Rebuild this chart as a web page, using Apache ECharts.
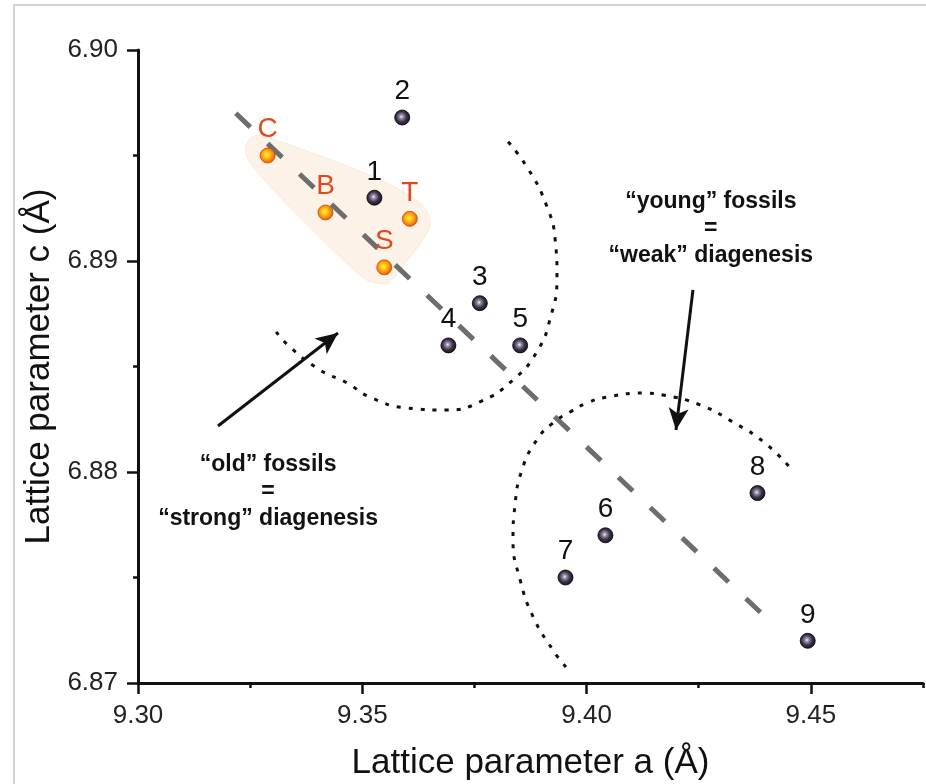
<!DOCTYPE html>
<html>
<head>
<meta charset="utf-8">
<script src="https://cdn.jsdelivr.net/npm/echarts@6/dist/echarts.min.js"></script>
<style>
html,body{margin:0;padding:0;background:#fff;}
#chart{width:926px;height:784px;}
</style>
</head>
<body>
<div id="chart"></div>
<script>
// ---- data ----
var fossilNames = ['1','2','3','4','5','6','7','8','9'];
var fossilA = [9.3527, 9.3589, 9.3762, 9.3692, 9.3852, 9.4042, 9.3953, 9.4381, 9.4493];
var fossilC = [6.8930, 6.8968, 6.8880, 6.8860, 6.8860, 6.8770, 6.8750, 6.8790, 6.8720];

var refNames = ['C','B','T','S'];
var refA = [9.3289, 9.3418, 9.3606, 9.3549];
var refC = [6.8950, 6.8923, 6.8920, 6.8897];

var trendA = [9.3218, 9.4390];
var trendC = [6.8970, 6.8733];

var arcOldA = [9.3308, 9.3339, 9.3406, 9.3466, 9.3517, 9.3600, 9.3689, 9.3762, 9.3836, 9.3889, 9.3918, 9.3934, 9.3930, 9.3912, 9.3867, 9.3814];
var arcOldC = [6.88664, 6.88592, 6.88483, 6.88422, 6.88355, 6.88303, 6.88294, 6.88332, 6.88436, 6.88569, 6.88720, 6.88924, 6.89100, 6.89256, 6.89446, 6.89592];

var arcYoungA = [9.3954, 9.3925, 9.3881, 9.3852, 9.3836, 9.3840, 9.3856, 9.3889, 9.3925, 9.3963, 9.4001, 9.4045, 9.4126, 9.4170, 9.4253, 9.4326, 9.4398, 9.4458];
var arcYoungC = [6.87076, 6.87156, 6.87313, 6.87488, 6.87678, 6.87834, 6.88010, 6.88152, 6.88232, 6.88284, 6.88327, 6.88355, 6.88374, 6.88365, 6.88318, 6.88237, 6.88137, 6.88010];

var blobA = [9.3240, 9.3252, 9.3275, 9.3524, 9.3629, 9.3651, 9.3644, 9.3584, 9.3554, 9.3510, 9.3450, 9.3287, 9.3246];
var blobC = [6.89540, 6.89585, 6.89595, 6.8940, 6.89275, 6.89194, 6.89133, 6.88957, 6.88896, 6.8891, 6.8902, 6.8937, 6.89480];

var arrowOld = [[9.31783, 6.88218], [9.34458, 6.88659]];
var arrowYoung = [[9.42372, 6.88863], [9.41993, 6.88199]];

var noteTexts = ['\u201Cold\u201D fossils\n=\n\u201Cstrong\u201D diagenesis', '\u201Cyoung\u201D fossils\n=\n\u201Cweak\u201D diagenesis'];
var noteA = [9.3290, 9.4277];
var noteC = [6.87905, 6.89152];

var xMajorTicks = [9.30, 9.35, 9.40, 9.45];
var xMinorTicks = [9.325, 9.375, 9.425, 9.475];
var yMajorTicks = [6.87, 6.88, 6.89, 6.90];
var yMinorTicks = [6.875, 6.885, 6.895];

// ---- chart ----
var FONT = '"Liberation Sans", Arial, Helvetica, sans-serif';
var chart = echarts.init(document.getElementById('chart'), null, {renderer: 'canvas'});

function zip(a, b) { return a.map(function (v, i) { return [v, b[i]]; }); }

var darkBall = {
  type: 'radial', x: 0.45, y: 0.45, r: 0.6,
  colorStops: [
    {offset: 0, color: '#f4eef8'},
    {offset: 0.2, color: '#9a8fa8'},
    {offset: 0.55, color: '#3c3248'},
    {offset: 1, color: '#110d16'}
  ]
};
var orangeBall = {
  type: 'radial', x: 0.45, y: 0.45, r: 0.6,
  colorStops: [
    {offset: 0, color: '#fff24a'},
    {offset: 0.35, color: '#ffbe10'},
    {offset: 0.75, color: '#f27412'},
    {offset: 1, color: '#d24a08'}
  ]
};

var option = {
  backgroundColor: '#ffffff',
  animation: false,
  grid: {left: 138, right: 3, top: 50, bottom: 101, containLabel: false, outerBoundsMode: 'none'},
  graphic: [{
    type: 'polyline', silent: true, z: -10,
    shape: {points: [[14, 784], [14, 5], [926, 5]]},
    style: {stroke: '#c8c8c8', lineWidth: 1.5, fill: null}
  }],
  xAxis: [{
    type: 'value', min: 9.30, max: 9.475,
    position: 'bottom',
    name: 'Lattice parameter a (\u00C5)',
    nameLocation: 'middle', nameGap: 63,
    nameTextStyle: {fontFamily: FONT, fontSize: 35, color: '#111'},
    axisLine: {show: true, onZero: false, lineStyle: {color: '#111', width: 3}},
    axisTick: {show: true, inside: false, length: 11, customValues: xMajorTicks, lineStyle: {color: '#111', width: 2.5}},
    axisLabel: {show: true, margin: 20, customValues: xMajorTicks, fontFamily: FONT, fontSize: 26, color: '#222',
      formatter: function (v) { return v.toFixed(2); }},
    splitLine: {show: false}
  }, {
    type: 'value', min: 9.30, max: 9.475,
    position: 'bottom',
    axisLine: {show: false, onZero: false},
    axisTick: {show: true, inside: false, length: 5, customValues: xMinorTicks, lineStyle: {color: '#111', width: 2.5}},
    axisLabel: {show: false},
    splitLine: {show: false}
  }],
  yAxis: [{
    type: 'value', min: 6.87, max: 6.90,
    position: 'left',
    name: 'Lattice parameter c (\u00C5)',
    nameLocation: 'middle', nameGap: 69, nameRotate: 90,
    nameTextStyle: {fontFamily: FONT, fontSize: 35, color: '#111'},
    axisLine: {show: true, onZero: false, lineStyle: {color: '#111', width: 3}},
    axisTick: {show: true, inside: false, length: 11, customValues: yMajorTicks, lineStyle: {color: '#111', width: 2.5}},
    axisLabel: {show: true, margin: 20, customValues: yMajorTicks, fontFamily: FONT, fontSize: 26, color: '#222',
      formatter: function (v) { return v.toFixed(2); }},
    splitLine: {show: false}
  }, {
    type: 'value', min: 6.87, max: 6.90,
    position: 'left',
    axisLine: {show: false, onZero: false},
    axisTick: {show: true, inside: false, length: 5, customValues: yMinorTicks, lineStyle: {color: '#111', width: 2.5}},
    axisLabel: {show: false},
    splitLine: {show: false}
  }],
  series: [
    {
      name: 'blob', type: 'custom', z: 1, silent: true, clip: false,
      data: [[blobA[0], blobC[0]]],
      renderItem: function (params, api) {
        var pts = blobA.map(function (a, i) { return api.coord([a, blobC[i]]); });
        return {
          type: 'polygon',
          shape: {points: pts, smooth: 0.3},
          style: {fill: '#fdf2e7', stroke: '#faeadb', lineWidth: 1}
        };
      }
    },
    {
      name: 'trend', type: 'line', z: 3, silent: true, symbol: 'none',
      data: zip(trendA, trendC),
      lineStyle: {color: '#6d6d6d', width: 5, type: [20, 24], cap: 'butt'},
      markLine: {
        silent: true, symbol: ['none', 'arrow'], symbolSize: [15, 22],
        label: {show: false},
        lineStyle: {color: '#111', width: 3, type: 'solid'},
        emphasis: {disabled: true},
        data: [
          [{coord: arrowOld[0]}, {coord: arrowOld[1]}],
          [{coord: arrowYoung[0]}, {coord: arrowYoung[1]}]
        ]
      }
    },
    {
      name: 'arcOld', type: 'line', z: 3, silent: true, symbol: 'none', smooth: true,
      data: zip(arcOldA, arcOldC),
      lineStyle: {color: '#111', width: 3, type: [4, 8], cap: 'butt'}
    },
    {
      name: 'arcYoung', type: 'line', z: 3, silent: true, symbol: 'none', smooth: true,
      data: zip(arcYoungA, arcYoungC),
      lineStyle: {color: '#111', width: 3, type: [4, 8], cap: 'butt'}
    },
    {
      name: 'notes', type: 'custom', z: 4, silent: true, clip: false,
      data: zip(noteA, noteC),
      renderItem: function (params, api) {
        var p = api.coord([api.value(0), api.value(1)]);
        return {
          type: 'text',
          x: p[0], y: p[1],
          style: {
            text: noteTexts[params.dataIndex],
            fill: '#111',
            font: 'bold 23px ' + FONT,
            lineHeight: 27,
            align: 'center', verticalAlign: 'middle'
          }
        };
      }
    },
    {
      name: 'fossils', type: 'scatter', z: 5, symbol: 'circle', symbolSize: 15,
      data: fossilA.map(function (a, i) { return {value: [a, fossilC[i]], name: fossilNames[i]}; }),
      itemStyle: {color: darkBall, borderColor: '#000', borderWidth: 0.8, opacity: 1},
      label: {show: true, position: 'top', distance: 4, formatter: '{b}',
        fontFamily: FONT, fontSize: 28, color: '#111'}
    },
    {
      name: 'reference', type: 'scatter', z: 5, symbol: 'circle', symbolSize: 15,
      data: refA.map(function (a, i) { return {value: [a, refC[i]], name: refNames[i]}; }),
      itemStyle: {color: orangeBall, borderColor: '#c44808', borderWidth: 0.8, opacity: 1},
      label: {show: true, position: 'top', distance: 4, formatter: '{b}',
        fontFamily: FONT, fontSize: 28, color: '#dc4a1e'}
    }
  ]
};
chart.setOption(option);
</script>
</body>
</html>
